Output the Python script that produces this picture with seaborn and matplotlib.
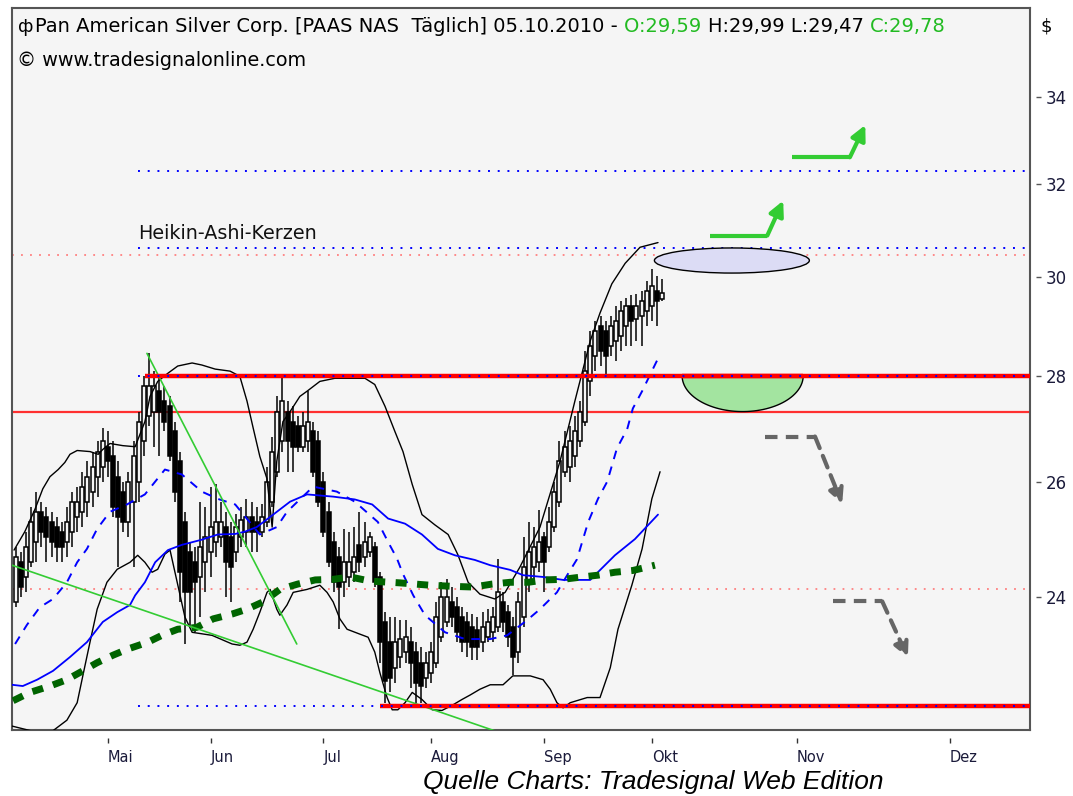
import numpy as np
import pandas as pd
import seaborn as sns
import matplotlib.pyplot as plt
from matplotlib.patches import Ellipse, Polygon

sns.set_style("white")
plt.rcParams['font.family'] = ['DejaVu Sans']

# Heikin-Ashi Kerzen, Bar 0 = 03.05.2010 (Handelstage)
bar = np.arange(-18, 109)
ha_open = [23.92, 24.59, 24.34, 24.59, 24.94, 25.47, 25.38, 25.29, 25.20, 25.12,
           24.94, 25.12, 25.38, 25.47, 25.65, 25.83, 26.10, 26.28, 26.65, 26.47,
           26.10, 25.83, 25.29, 25.65, 26.01, 26.75, 27.22, 27.31, 27.70, 27.51,
           27.41, 26.94, 26.38, 25.29, 24.77, 24.59, 24.34, 24.59, 24.77, 24.94,
           25.03, 25.20, 25.03, 24.77, 25.03, 25.12, 25.38, 25.29, 25.12, 25.29,
           25.65, 26.19, 26.75, 27.31, 27.12, 27.03, 26.65, 26.75, 26.94, 26.75,
           26.01, 25.47, 24.94, 24.68, 24.25, 24.34, 24.42, 24.89, 24.68, 24.77,
           24.85, 24.34, 23.59, 23.26, 22.85, 23.02, 23.10, 23.26, 23.10, 22.93,
           22.69, 22.77, 22.93, 23.34, 23.59, 23.92, 23.83, 23.67, 23.59, 23.50,
           23.45, 23.26, 23.34, 23.42, 23.50, 23.92, 23.75, 23.50, 23.10, 23.67,
           24.25, 24.51, 24.59, 25.03, 24.85, 25.20, 25.65, 26.19, 26.28, 26.47,
           26.75, 27.12, 27.89, 28.38, 28.99, 28.89, 28.58, 28.69, 28.79, 28.99,
           29.40, 29.13, 29.19, 29.29, 29.40, 29.71, 29.54]
ha_high = [24.85, 24.77, 25.12, 25.56, 25.83, 25.65, 25.56, 25.47, 25.38, 25.29,
           25.56, 25.83, 25.92, 26.19, 26.38, 26.56, 26.75, 27.00, 26.94, 26.75,
           26.38, 26.01, 26.19, 26.75, 27.31, 27.99, 28.44, 28.09, 27.99, 27.80,
           27.60, 27.12, 26.56, 25.47, 24.94, 24.85, 25.65, 25.56, 25.92, 25.96,
           25.65, 25.47, 25.29, 25.43, 25.56, 25.70, 25.65, 25.56, 25.61, 26.28,
           26.84, 27.60, 27.99, 27.51, 27.41, 27.22, 27.31, 27.70, 27.12, 26.94,
           26.19, 25.65, 25.12, 24.85, 25.16, 25.12, 25.20, 25.47, 25.29, 25.12,
           24.94, 24.42, 23.75, 23.67, 23.67, 23.62, 23.62, 23.50, 23.26, 23.18,
           23.10, 23.26, 23.92, 24.25, 24.30, 24.17, 24.00, 23.83, 23.75, 23.72,
           23.67, 23.75, 23.80, 23.83, 24.64, 24.08, 23.87, 23.67, 24.08, 25.03,
           25.29, 25.20, 25.51, 25.12, 25.56, 26.01, 26.75, 26.94, 27.03, 27.22,
           27.51, 28.48, 28.89, 29.09, 29.19, 29.09, 29.19, 29.40, 29.50, 29.56,
           29.61, 29.65, 29.71, 29.91, 30.16, 30.01, 29.95]
ha_low = [23.83, 24.00, 24.08, 24.51, 24.59, 24.85, 24.59, 24.68, 24.59, 24.59,
          24.68, 24.85, 25.12, 25.20, 25.38, 25.56, 25.74, 26.01, 26.10, 25.38,
          24.51, 25.12, 25.03, 24.51, 25.65, 26.47, 27.03, 26.65, 26.47, 26.94,
          26.38, 25.65, 23.92, 23.23, 23.50, 23.42, 23.67, 24.08, 24.34, 24.68,
          24.85, 24.00, 23.92, 24.59, 24.85, 24.85, 24.77, 24.77, 25.03, 25.20,
          25.56, 26.10, 26.56, 26.19, 26.19, 26.56, 26.56, 26.56, 26.10, 25.56,
          25.03, 24.51, 24.08, 23.47, 24.00, 24.17, 24.25, 24.42, 24.51, 24.68,
          24.17, 22.93, 22.30, 22.46, 22.61, 22.85, 22.93, 22.53, 22.30, 22.30,
          22.53, 22.61, 22.85, 23.26, 23.50, 23.50, 23.26, 23.10, 23.02, 22.98,
          22.98, 23.10, 23.26, 23.26, 23.42, 23.42, 23.18, 22.74, 22.93, 23.50,
          24.08, 24.25, 24.42, 24.08, 24.77, 25.12, 25.56, 26.10, 26.01, 26.28,
          26.65, 27.03, 27.60, 28.09, 28.19, 28.03, 28.38, 28.29, 28.48, 28.58,
          28.58, 28.69, 28.58, 28.99, 29.09, 28.99, 29.50]
ha_close = [24.68, 24.17, 24.85, 25.29, 25.47, 25.12, 25.03, 24.94, 24.85, 24.85,
            25.29, 25.65, 25.65, 25.92, 26.10, 26.28, 26.56, 26.75, 26.38, 25.56,
            25.38, 25.29, 26.01, 26.47, 27.12, 27.80, 27.80, 27.80, 27.31, 27.12,
            26.47, 25.83, 24.42, 24.08, 24.08, 24.25, 24.85, 25.03, 25.20, 25.29,
            25.29, 24.59, 24.51, 25.20, 25.33, 25.38, 25.12, 25.12, 25.38, 26.01,
            26.56, 27.31, 27.51, 26.75, 26.65, 26.65, 27.03, 27.12, 26.19, 25.65,
            25.12, 24.59, 24.25, 24.17, 24.59, 24.59, 24.68, 24.59, 24.94, 25.03,
            24.25, 23.26, 22.64, 22.69, 23.26, 23.31, 23.34, 22.93, 22.61, 22.56,
            22.93, 23.10, 23.67, 24.00, 24.00, 23.67, 23.42, 23.26, 23.26, 23.18,
            23.18, 23.50, 23.59, 23.67, 24.08, 23.59, 23.34, 23.02, 23.92, 24.51,
            24.77, 24.85, 24.94, 24.59, 25.29, 25.83, 26.38, 26.65, 26.75, 26.94,
            27.31, 28.09, 28.58, 28.89, 28.48, 28.38, 28.99, 29.09, 29.29, 29.40,
            29.09, 29.40, 29.50, 29.71, 29.81, 29.50, 29.67]

# Bollinger-Baender
bb_up_x = [-18.3, -16.2, -14.2, -12.7, -11.3, -9.7, -8.4, -7.4, -6.0, -3.5, -1.9, -1.0,
           0.4, 2.9, 5.3, 7.2, 8.2, 9.7, 11.7, 13.6, 16.4, 18.3, 20.9, 23.8, 25.7,
           27.1, 28.3, 29.6, 31.0, 32.0, 32.9, 34.1, 35.5, 37.4, 38.8, 41.3, 44.2,
           50.1, 52.0, 54.0, 55.9, 57.5, 59.3, 61.2, 63.7, 66.3, 68.2, 70.2, 72.5,
           75.4, 77.4, 80.3, 84.2, 88.1, 91.0, 94.0, 95.9, 98.2, 100.8, 103.7, 107.2]
bb_up_y = [24.80, 25.12, 25.52, 25.88, 26.10, 26.23, 26.36, 26.51, 26.58, 26.56, 26.51,
           26.60, 26.71, 26.67, 26.65, 27.12, 27.60, 27.89, 28.05, 28.19, 28.25, 28.21,
           28.13, 28.09, 27.99, 27.51, 27.00, 26.47, 26.06, 25.20, 26.38, 27.12, 27.31,
           27.60, 27.70, 27.89, 27.95, 27.95, 27.83, 27.41, 26.94, 26.56, 25.96, 25.42,
           25.24, 25.07, 24.72, 24.25, 24.05, 23.97, 24.08, 24.51, 25.20, 26.38, 27.51,
           28.69, 29.25, 29.85, 30.28, 30.62, 30.72]
bb_lo_x = [-18.7, -14.6, -10.7, -8.0, -6.0, -4.9, -3.5, -2.1, -0.2, 1.8, 4.3, 5.8, 7.2,
           8.6, 9.7, 11.1, 12.1, 15.0, 16.4, 20.3, 24.2, 25.7, 27.1, 28.3, 29.6, 31.0,
           31.6, 32.9, 33.5, 34.9, 36.1, 38.8, 41.3, 42.7, 43.9, 45.2, 46.6, 49.1, 50.7,
           52.0, 53.0, 54.4, 55.4, 56.5, 57.9, 59.3, 61.2, 63.2, 65.1, 67.1, 69.0, 70.6,
           72.5, 74.5, 77.0, 78.9, 82.3, 84.8, 86.2, 87.5, 88.7, 90.1, 93.4, 95.9, 97.9,
           99.4, 102.1, 104.1, 106.0, 107.6]
bb_lo_y = [21.94, 21.86, 21.87, 22.03, 22.30, 22.72, 23.26, 23.80, 24.25, 24.47, 24.59,
           24.71, 24.59, 24.42, 24.47, 24.73, 24.80, 23.67, 23.42, 23.37, 23.23, 23.21,
           23.26, 23.47, 23.75, 24.08, 24.13, 23.80, 23.70, 23.87, 24.08, 24.13, 24.20,
           24.08, 23.92, 23.64, 23.47, 23.39, 23.34, 23.10, 22.77, 22.38, 22.19, 22.19,
           22.30, 22.46, 22.35, 22.19, 22.18, 22.26, 22.35, 22.42, 22.51, 22.58, 22.58,
           22.72, 22.72, 22.66, 22.51, 22.30, 22.22, 22.30, 22.38, 22.38, 22.85, 23.47,
           24.20, 24.82, 25.70, 26.19]

# gleitende Durchschnitte
ma50_x = [-18.7, -16.6, -13.8, -10.7, -7.4, -4.1, -1.0, 1.8, 4.3, 5.3, 7.2, 9.2, 11.7,
          14.4, 18.3, 21.4, 24.8, 26.7, 29.0, 32.2, 35.5, 38.8, 43.9, 48.1, 51.5, 54.6,
          57.9, 61.2, 64.3, 67.6, 71.5, 74.5, 78.4, 80.9, 84.8, 88.7, 94.0, 94.9, 98.8,
          102.7, 107.2]
ma50_y = [22.58, 22.56, 22.66, 22.80, 23.02, 23.26, 23.59, 23.75, 23.87, 24.03, 24.25,
          24.59, 24.80, 24.89, 24.98, 25.07, 25.08, 25.12, 25.20, 25.42, 25.65, 25.78,
          25.74, 25.69, 25.60, 25.35, 25.26, 25.07, 24.82, 24.71, 24.63, 24.54, 24.46,
          24.37, 24.34, 24.29, 24.29, 24.37, 24.71, 24.99, 25.42]
ma20_x = [-18.1, -15.8, -13.3, -10.7, -8.0, -6.0, -4.1, -2.1, 0.4, 3.7, 7.2, 9.2, 11.1,
          14.4, 18.3, 21.4, 24.8, 29.6, 32.9, 34.9, 40.0, 44.6, 48.1, 52.6, 54.6, 56.3,
          57.5, 59.5, 61.8, 65.7, 69.6, 74.5, 77.8, 81.7, 84.2, 87.5, 89.5, 91.4, 93.6,
          95.5, 97.3, 99.2, 101.2, 102.3, 104.1, 106.0, 107.6]
ma20_y = [23.23, 23.54, 23.83, 23.97, 24.25, 24.59, 24.82, 25.17, 25.47, 25.60, 25.78,
          26.01, 26.23, 26.14, 25.83, 25.70, 25.60, 25.07, 25.20, 25.47, 25.92, 25.83,
          25.65, 25.29, 24.94, 24.66, 24.39, 24.03, 23.70, 23.42, 23.31, 23.31, 23.37,
          23.62, 23.80, 24.08, 24.37, 24.64, 25.29, 25.70, 26.01, 26.62, 26.98, 27.37,
          27.70, 28.09, 28.42]
ma200_x = [-18.5, -15.2, -11.3, -8.0, -4.9, -2.1, 1.0, 3.9, 7.8, 10.5, 13.6, 17.3, 20.5,
           24.2, 27.1, 30.2, 33.5, 37.0, 40.4, 43.9, 47.2, 51.1, 56.9, 62.8, 67.6, 71.2,
           74.9, 78.4, 81.9, 85.2, 88.7, 92.4, 95.5, 98.8, 102.3, 106.6]
ma200_y = [22.33, 22.46, 22.56, 22.66, 22.80, 22.93, 23.05, 23.15, 23.26, 23.37, 23.47,
           23.50, 23.64, 23.72, 23.80, 23.92, 24.13, 24.22, 24.29, 24.30, 24.34, 24.27,
           24.24, 24.20, 24.18, 24.17, 24.22, 24.25, 24.25, 24.29, 24.30, 24.34, 24.37,
           24.42, 24.45, 24.54]

# Trendlinien (Start/Ende)
trend1_x = [7.6, 36.8]
trend1_y = [28.44, 23.23]
trend2_x = [-18.7, 76.4]
trend2_y = [24.54, 21.84]

# horizontale Marken
res_high = 32.28
res_mid = 30.61
pink_top = 30.46
sup_28 = 28.0
red_thin = 27.30
pink_low = 24.14
sup_low = 22.25

month_pos = [0, 20, 42, 63, 85, 106, 134.3, 164.1]
month_lbl = ['Mai', 'Jun', 'Jul', 'Aug', 'Sep', 'Okt', 'Nov', 'Dez']
y_ticks = [24, 26, 28, 30, 32, 34]

x_left, x_right = -18.7, 179.7
y_low, y_high = 21.88, 36.17

bg = '#F5F5F5'
fig = plt.figure(figsize=(10.73, 7.96), dpi=100)
ax = fig.add_axes([12 / 1073, 66 / 796, 1018 / 1073, 722 / 796])
ax.set_facecolor(bg)
ax.set_yscale('log')

# Kerzen
o = np.array(ha_open)
c = np.array(ha_close)
up = c >= o
ax.vlines(bar, ha_low, ha_high, color='black', lw=1.1, zorder=3)
ax.bar(bar, np.abs(c - o), bottom=np.minimum(o, c), width=0.78,
       color=np.where(up, bg, 'black'), edgecolor='black', linewidth=1.1, zorder=4)

# Linien
kw = dict(ax=ax, estimator=None, sort=False, legend=False, zorder=5)
sns.lineplot(data=pd.DataFrame({'x': bb_up_x, 'y': bb_up_y}), x='x', y='y', color='black', lw=1.0, **kw)
sns.lineplot(data=pd.DataFrame({'x': bb_lo_x, 'y': bb_lo_y}), x='x', y='y', color='black', lw=1.0, **kw)
sns.lineplot(data=pd.DataFrame({'x': ma50_x, 'y': ma50_y}), x='x', y='y', color='#0000FF', lw=1.3, **kw)
ax.plot(ma20_x, ma20_y, color='#0000FF', lw=1.4, ls=(0, (4.5, 4)), zorder=5)
ax.plot(ma200_x, ma200_y, color='#006400', lw=5, ls=(0, (1.6, 1.5)), zorder=5)

ax.plot(trend1_x, trend1_y, color='#33CC33', lw=1.2, zorder=6)
ax.plot(trend2_x, trend2_y, color='#33CC33', lw=1.2, zorder=6)

# horizontale Linien
ax.hlines(red_thin, x_left, x_right, color='#FF3030', lw=1.6, zorder=2)
ax.hlines(sup_28, 7.2, x_right, color='#FF0000', lw=3.2, zorder=6)
ax.hlines(sup_28, 5.8, x_right, color='#0000FF', lw=1.4, ls=(0, (1, 4)), zorder=7)
ax.hlines(sup_low, 53.0, x_right, color='#FF0000', lw=3.2, zorder=6)
ax.hlines(sup_low, 5.8, x_right, color='#0000FF', lw=1.4, ls=(0, (1, 4)), zorder=7)
ax.hlines([res_high, res_mid], 5.8, x_right, color='#0000FF', lw=1.4, ls=(0, (1, 4)), zorder=2)
ax.hlines([pink_top, pink_low], x_left, x_right, color='#FF8080', lw=1.3, ls=(0, (1, 4)), zorder=2)

# Ellipse und Halbschale
ax.add_patch(Ellipse((121.6, 30.34), 30.2, 0.53, facecolor='#DCDCF5', edgecolor='black',
                     lw=1.0, zorder=7))
t = np.linspace(0, np.pi, 60)
bx = 123.7 + 11.8 * np.cos(t)
by = np.exp(np.log(sup_28) - (np.log(sup_28) - np.log(27.31)) * np.sin(t))
ax.add_patch(Polygon(np.column_stack([bx, by]), closed=True, facecolor='#A3E4A0',
                     edgecolor='black', lw=1.0, zorder=5))
ax.hlines(sup_28, 111.9, 135.5, color='#FF0000', lw=3.2, zorder=6)


def step_arrow(xs, ys, color, ls):
    ax.plot(xs[:2], ys[:2], color=color, lw=3, ls=ls, zorder=8, solid_capstyle='butt')
    ax.annotate('', xy=(xs[2], ys[2]), xytext=(xs[1], ys[1]), zorder=8,
                arrowprops=dict(arrowstyle='-|>', color=color, lw=3, ls=ls,
                                mutation_scale=22, shrinkA=0, shrinkB=0))


step_arrow([117.3, 128.5, 131.6], [30.87, 30.87, 31.63], '#33CC33', '-')
step_arrow([133.3, 144.6, 147.6], [32.60, 32.60, 33.34], '#33CC33', '-')
step_arrow([128.1, 137.8, 143.1], [26.84, 26.84, 25.61], '#666666', (0, (3, 2)))
step_arrow([141.3, 150.9, 155.9], [23.93, 23.93, 23.01], '#666666', (0, (3, 2)))

ax.text(5.8, 30.80, 'Heikin-Ashi-Kerzen', fontsize=13.8, color='#111111', va='baseline', zorder=9)

# Achsen
ax.set_xlim(x_left, x_right)
ax.set_ylim(y_low, y_high)
ax.yaxis.tick_right()
ax.set_yticks(y_ticks)
ax.set_yticklabels([str(v) for v in y_ticks])
ax.yaxis.set_minor_locator(plt.NullLocator())
ax.tick_params(axis='y', which='major', length=0, labelsize=12, labelcolor='#1A1A3A',
               pad=11.5, right=True, left=False)
ax.hlines(y_ticks, 1.0059, 1.0108, transform=ax.get_yaxis_transform(),
          color='#555555', lw=1, clip_on=False)
ax.set_xticks(month_pos)
ax.set_xticklabels(month_lbl)
ax.tick_params(axis='x', length=0, pad=14.5, labelsize=10.5, labelcolor='#1A1A3A')
for lab in ax.get_xticklabels():
    lab.set_ha('left')
ax.vlines(month_pos, -0.011, -0.018, transform=ax.get_xaxis_transform(),
          color='#333333', lw=1, clip_on=False)
ax.set_xlabel('')
ax.set_ylabel('')
for sp in ax.spines.values():
    sp.set_color('#555555')
    sp.set_linewidth(1.5)
    sp.set_visible(True)

# Kopfzeile
renderer = fig.canvas.get_renderer()
fig.text(18 / 1073, 1 - 27 / 796, 'ф', fontsize=13, color='black', va='center')
xpos = 35 / 1073
for s, col in [('Pan American Silver Corp. [PAAS NAS  Täglich] 05.10.2010 - ', 'black'),
               ('O:29,59 ', '#22BB22'), ('H:29,99 L:29,47 ', 'black'), ('C:29,78', '#22BB22')]:
    tx = fig.text(xpos, 1 - 27 / 796, s, fontsize=14, color=col, va='center')
    xpos += tx.get_window_extent(renderer=renderer).width / fig.bbox.width
fig.text(17 / 1073, 1 - 60 / 796, '© www.tradesignalonline.com', fontsize=13.8, color='black', va='center')
fig.text(1040 / 1073, 1 - 27 / 796, '$', fontsize=13, color='black', va='center')
fig.text(653 / 1073, 1 - 782 / 796, 'Quelle Charts: Tradesignal Web Edition', fontsize=19,
         style='italic', family=['Liberation Sans'], ha='center', va='center', color='black')

fig.savefig('out.png', dpi=100, facecolor='white')
